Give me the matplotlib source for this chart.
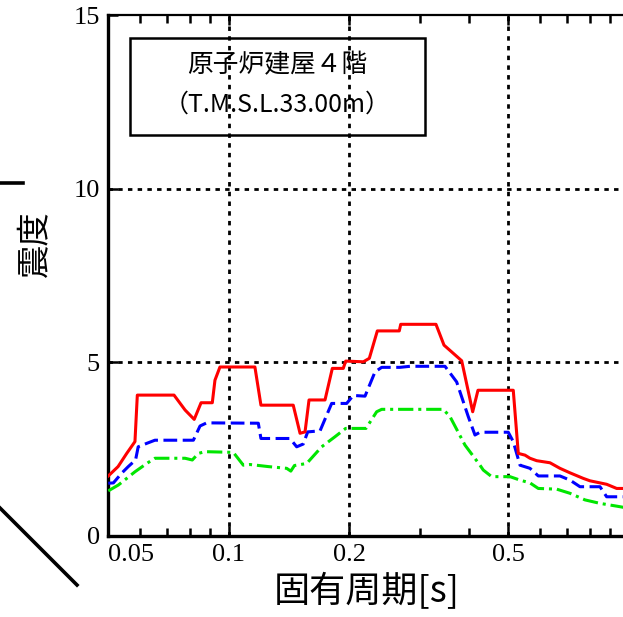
import matplotlib
matplotlib.use("Agg")
import matplotlib.pyplot as plt
from matplotlib.patches import Rectangle
from matplotlib.lines import Line2D

# 周期[s] と 震度
periodo_rojo = [0.0500, 0.0529, 0.0556, 0.0583, 0.0591, 0.0730, 0.0778, 0.0820, 0.0853,
                0.0910, 0.0924, 0.0951, 0.1163, 0.1204, 0.1450, 0.1508, 0.1552, 0.1588,
                0.1741, 0.1816, 0.1934, 0.1961, 0.2171, 0.2247, 0.2353, 0.2670, 0.2692,
                0.3298, 0.3454, 0.3824, 0.4074, 0.4200, 0.5146, 0.5297, 0.5506, 0.5666,
                0.5888, 0.6358, 0.6733, 0.7134, 0.7700, 0.8004, 0.8810, 0.9333, 1.0]
sindo_rojo = [1.73, 2.00, 2.38, 2.72, 4.06, 4.06, 3.63, 3.36, 3.84,
              3.84, 4.49, 4.87, 4.87, 3.77, 3.77, 2.96, 3.00, 3.92,
              3.92, 4.83, 4.83, 5.04, 5.02, 5.12, 5.91, 5.91, 6.10,
              6.10, 5.50, 5.05, 3.58, 4.20, 4.20, 2.38, 2.33, 2.24,
              2.17, 2.11, 1.95, 1.82, 1.66, 1.59, 1.49, 1.37, 1.37]

periodo_azul = [0.0500, 0.0515, 0.0540, 0.0561, 0.0585, 0.0594, 0.0624, 0.0654, 0.0816,
                0.0848, 0.0881, 0.1186, 0.1204, 0.1423, 0.1479, 0.1536, 0.1576, 0.1692,
                0.1809, 0.1972, 0.2049, 0.2192, 0.2322, 0.2413, 0.2681, 0.2840, 0.3474,
                0.3715, 0.3972, 0.4128, 0.4249, 0.5000, 0.5146, 0.5350, 0.5666, 0.5943,
                0.6733, 0.7134, 0.7555, 0.8478, 0.8810, 1.0]
sindo_azul = [1.52, 1.53, 1.81, 2.00, 2.19, 2.57, 2.67, 2.76, 2.76,
              3.17, 3.26, 3.25, 2.81, 2.81, 2.57, 2.65, 3.00, 3.03,
              3.82, 3.82, 4.05, 4.03, 4.73, 4.86, 4.86, 4.89, 4.89,
              4.44, 3.44, 2.91, 2.99, 2.99, 2.72, 2.04, 1.95, 1.73,
              1.73, 1.61, 1.42, 1.42, 1.13, 1.13]

periodo_verde = [0.0500, 0.0530, 0.0556, 0.0583, 0.0624, 0.0654, 0.0778, 0.0811, 0.0840,
                 0.0872, 0.1027, 0.1088, 0.1131, 0.1256, 0.1396, 0.1430, 0.1460, 0.1567,
                 0.1708, 0.1844, 0.1961, 0.2204, 0.2344, 0.2413, 0.3439, 0.3575, 0.3897,
                 0.4249, 0.4330, 0.4545, 0.5050, 0.5350, 0.5666, 0.5943, 0.6607, 0.7134,
                 0.7777, 0.8478, 0.9333, 1.0]
sindo_verde = [1.30, 1.47, 1.66, 1.85, 2.09, 2.24, 2.24, 2.19, 2.38,
               2.43, 2.41, 2.04, 2.06, 2.00, 1.95, 1.87, 2.03, 2.09,
               2.57, 2.86, 3.10, 3.10, 3.58, 3.65, 3.65, 3.44, 2.62,
               2.04, 1.90, 1.71, 1.71, 1.61, 1.53, 1.37, 1.35, 1.23,
               1.04, 0.94, 0.86, 0.80]

xticks = [0.05, 0.1, 0.2, 0.5]
xtick_labels = ["0.05", "0.1", "0.2", "0.5"]
xminor = [0.06, 0.07, 0.08, 0.09, 0.3, 0.4, 0.6, 0.7, 0.8, 0.9]
yticks = [0, 5, 10, 15]
grid_x = [0.1, 0.2, 0.5]
grid_y = [5, 10]

fuente_cjk = ["Noto Sans CJK JP", "DejaVu Sans"]
fuente_num = "Liberation Serif"

fig = plt.figure(figsize=(6.23, 6.17), dpi=100)
ax = fig.add_axes([0.1738, 0.1313, 0.8353, 0.8436])

for gx in grid_x:
    ax.axvline(gx, color="black", lw=2.0, ls=(0, (1.6, 1.9)), zorder=1)
for gy in grid_y:
    ax.axhline(gy, color="black", lw=2.0, ls=(0, (1.6, 1.9)), zorder=1)

ax.plot(periodo_verde, sindo_verde, color="#00e600", lw=2.2,
        dashes=(5, 1.6, 1, 1.6), zorder=3)
ax.plot(periodo_azul, sindo_azul, color="#0000ff", lw=2.2,
        dashes=(4.5, 1.8), zorder=4)
ax.plot(periodo_rojo, sindo_rojo, color="#ff0000", lw=2.2, zorder=5)

ax.set_xscale("log")
ax.set_xlim(0.05, 1.0)
ax.set_ylim(0, 15)
ax.set_xticks(xticks)
ax.set_xticklabels(xtick_labels)
ax.set_xticks(xminor, minor=True)
ax.set_xticklabels([], minor=True)
ax.set_yticks(yticks)

ax.tick_params(axis="both", which="both", direction="in", top=True,
               labelsize=19, width=1.8)
ax.tick_params(axis="both", which="major", length=7, pad=6)
ax.tick_params(axis="x", which="minor", length=6)
for lab in ax.get_xticklabels() + ax.get_yticklabels():
    lab.set_fontfamily(fuente_num)
ax.get_xticklabels()[0].set_horizontalalignment("left")

for lado in ["left", "bottom"]:
    ax.spines[lado].set_linewidth(2.4)
ax.spines["top"].set_linewidth(1.6)

# recuadro con el nombre del piso
ax.add_patch(Rectangle((0.0417, 0.7704), 0.567, 0.1864, transform=ax.transAxes,
                       fill=False, edgecolor="black", lw=1.8, zorder=6))
ax.text(0.3252, 0.9036, "原子炉建屋４階", transform=ax.transAxes, ha="center",
        va="center", fontsize=18.5, family=fuente_cjk, zorder=7)
ax.text(0.3252, 0.8295, "（T.M.S.L.33.00m）", transform=ax.transAxes, ha="center",
        va="center", fontsize=18, family=fuente_cjk, zorder=7)

fig.text(0.588, 1 - 592 / 617, "固有周期[s]", ha="center", va="center",
         fontsize=26, family=fuente_cjk)
fig.text(35.5 / 623, 1 - 243.5 / 617, "震度", ha="center", va="center",
         rotation=90, fontsize=24, family=fuente_cjk)

# restos del recorte de la figura original
fig.add_artist(Line2D([0, 23 / 623], [1 - 182.7 / 617] * 2, color="black", lw=2.6))
fig.add_artist(Line2D([0, 77 / 623], [1 - 508 / 617, 1 - 585 / 617], color="black", lw=2.6))

fig.savefig("out.png", dpi=100)
